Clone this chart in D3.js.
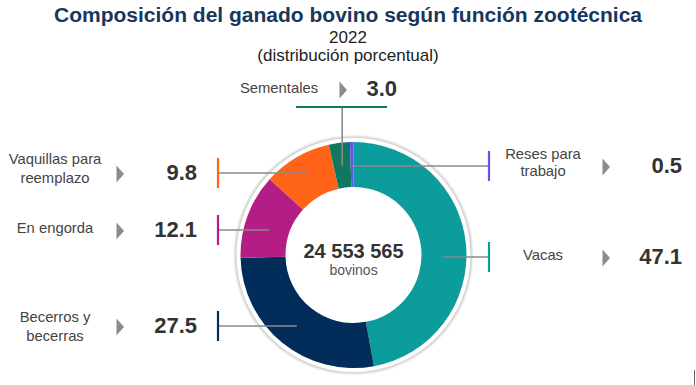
<!DOCTYPE html>
<html>
<head>
<meta charset="utf-8">
<script src="https://cdn.jsdelivr.net/npm/d3@7"></script>
<style>
  html, body { margin: 0; padding: 0; background: #fff; }
  svg { display: block; font-family: "Liberation Sans", Arial, sans-serif; }
</style>
</head>
<body>
<svg id="chart" width="696" height="385"></svg>
<script>
// ---- data ----
const categories = ["Vacas", "Becerros y becerras", "En engorda", "Vaquillas para reemplazo", "Sementales", "Reses para trabajo"];
const labelLines = [["Vacas"], ["Becerros y", "becerras"], ["En engorda"], ["Vaquillas para", "reemplazo"], ["Sementales"], ["Reses para", "trabajo"]];
const values = [47.1, 27.5, 12.1, 9.8, 3.0, 0.5];
const colors = ["#0c9c9c", "#022d5a", "#b31d85", "#ff6418", "#0f7861", "#6552ee"];
const totalLabel = "24 553 565";
const totalUnit = "bovinos";
const title = "Composición del ganado bovino según función zootécnica";
const subtitle1 = "2022";
const subtitle2 = "(distribución porcentual)";

// ---- layout (not data) ----
const W = 696, H = 385;
const cx = 353.5, cy = 255, rOuter = 113, rInner = 68, rRing = 117.5;
// side: "L", "R", "T"; rowY: marker center y; textY: baselines of label lines
const layout = [
  { side: "R", rowY: 257, textY: [260] },
  { side: "L", rowY: 326, textY: [322, 341] },
  { side: "L", rowY: 230, textY: [233] },
  { side: "L", rowY: 173, textY: [164, 183] },
  { side: "T", rowY: 107, textY: [93] },
  { side: "R", rowY: 166, textY: [159, 176] }
];

const svg = d3.select("#chart");

// Titles
svg.append("text").attr("x", W / 2).attr("y", 22).attr("text-anchor", "middle")
  .attr("font-size", 21).attr("font-weight", "bold").attr("fill", "#17375e").text(title);
svg.append("text").attr("x", W / 2).attr("y", 43).attr("text-anchor", "middle")
  .attr("font-size", 17).attr("fill", "#222").text(subtitle1);
svg.append("text").attr("x", W / 2).attr("y", 61).attr("text-anchor", "middle")
  .attr("font-size", 17).attr("fill", "#222").text(subtitle2);

// Donut
const pie = d3.pie().sort(null).value(d => d)(values);
const arc = d3.arc().innerRadius(rInner).outerRadius(rOuter);
const g = svg.append("g").attr("transform", `translate(${cx},${cy})`);

const defs = svg.append("defs");
const f = defs.append("filter").attr("id", "sh").attr("x", "-20%").attr("y", "-20%").attr("width", "140%").attr("height", "140%");
f.append("feGaussianBlur").attr("stdDeviation", 1.2);

g.append("circle").attr("r", rRing).attr("fill", "none").attr("stroke", "#c8c8c8").attr("stroke-width", 2.6).attr("filter", "url(#sh)");
g.append("circle").attr("r", rRing - 0.6).attr("fill", "#fff");

g.selectAll("path.slice").data(pie).enter().append("path")
  .attr("class", "slice")
  .attr("d", arc)
  .attr("fill", (d, i) => colors[i]);

// Center text
g.append("text").attr("y", 3).attr("text-anchor", "middle").attr("font-size", 20)
  .attr("font-weight", "bold").attr("fill", "#333").text(totalLabel);
g.append("text").attr("y", 20).attr("text-anchor", "middle").attr("font-size", 14)
  .attr("fill", "#555").text(totalUnit);

// Leaders and labels
const leaderR = 90;
const markerXL = 218, markerXR = 489;
const labelFont = 14.8;
const tri = (x, y) => `M${x},${y - 8.5}L${x + 7.5},${y}L${x},${y + 8.5}Z`;

pie.forEach((d, i) => {
  const L = layout[i];
  const a = (d.startAngle + d.endAngle) / 2;
  const px = cx + leaderR * Math.sin(a);
  const py = cy - leaderR * Math.cos(a);
  const lines = labelLines[i];
  const val = d3.format(".1f")(values[i]);

  if (L.side === "L" || L.side === "R") {
    const mx = L.side === "L" ? markerXL : markerXR;
    svg.append("line").attr("x1", px).attr("y1", L.rowY).attr("x2", mx).attr("y2", L.rowY)
      .attr("stroke", "#8a8a8a").attr("stroke-width", 1.6);
    svg.append("line").attr("x1", mx).attr("y1", L.rowY - 15).attr("x2", mx).attr("y2", L.rowY + 15)
      .attr("stroke", colors[i]).attr("stroke-width", 2.2);
    const textX = L.side === "L" ? 55 : 543;
    const triX = L.side === "L" ? 116.5 : 602.5;
    const valX = L.side === "L" ? 197 : 682;
    lines.forEach((t, k) => {
      svg.append("text").attr("x", textX).attr("y", L.textY[k]).attr("text-anchor", "middle")
        .attr("font-size", labelFont).attr("fill", "#444").text(t);
    });
    svg.append("path").attr("d", tri(triX, L.rowY + 1)).attr("fill", "#8c8c8c");
    svg.append("text").attr("x", valX).attr("y", L.rowY + 7).attr("text-anchor", "end")
      .attr("font-size", 22).attr("font-weight", "bold").attr("fill", "#333").text(val);
  } else {
    svg.append("line").attr("x1", px).attr("y1", py).attr("x2", px).attr("y2", L.rowY)
      .attr("stroke", "#8a8a8a").attr("stroke-width", 1.6);
    svg.append("line").attr("x1", 296).attr("y1", L.rowY).attr("x2", 387).attr("y2", L.rowY)
      .attr("stroke", colors[i]).attr("stroke-width", 2.2);
    svg.append("text").attr("x", 279).attr("y", L.textY[0]).attr("text-anchor", "middle")
      .attr("font-size", labelFont).attr("fill", "#444").text(lines[0]);
    svg.append("path").attr("d", tri(339.5, 90)).attr("fill", "#8c8c8c");
    svg.append("text").attr("x", 397).attr("y", 96).attr("text-anchor", "end")
      .attr("font-size", 22).attr("font-weight", "bold").attr("fill", "#333").text(val);
  }
});

// small edge mark at bottom-right
svg.append("line").attr("x1", 694.5).attr("y1", 370).attr("x2", 694.5).attr("y2", 385)
  .attr("stroke", "#666").attr("stroke-width", 1);
</script>
</body>
</html>
